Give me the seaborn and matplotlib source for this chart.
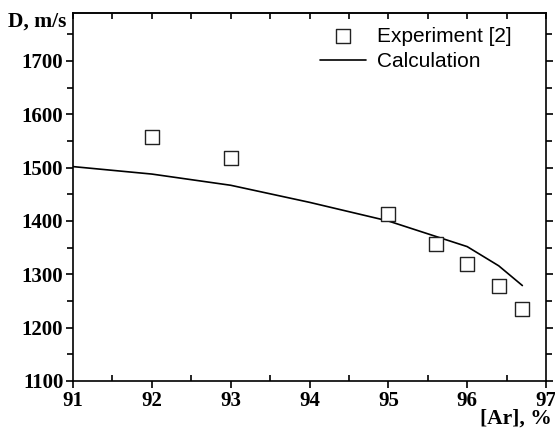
import matplotlib
matplotlib.use("Agg")
import matplotlib.pyplot as plt
import seaborn as sns
import pandas as pd
from matplotlib.ticker import MultipleLocator

exp_x = [92.0, 93.0, 95.0, 95.6, 96.0, 96.4, 96.7]
exp_y = [1557, 1518, 1414, 1356, 1319, 1279, 1235]
calc_x = [91.0, 92.0, 93.0, 94.0, 95.0, 96.0, 96.4, 96.7]
calc_y = [1502, 1488, 1467, 1435, 1400, 1352, 1316, 1279]
x_ticks = [91, 92, 93, 94, 95, 96, 97]
y_ticks = [1100, 1200, 1300, 1400, 1500, 1600, 1700]

exp_df = pd.DataFrame({"x": exp_x, "y": exp_y})
calc_df = pd.DataFrame({"x": calc_x, "y": calc_y})

sns.set_style("ticks")
plt.rcParams["font.family"] = ["Liberation Serif", "DejaVu Serif"]
plt.rcParams["text.color"] = "black"
plt.rcParams["xtick.color"] = "black"
plt.rcParams["ytick.color"] = "black"
plt.rcParams["axes.labelcolor"] = "black"

fig = plt.figure(figsize=(5.55, 4.30), dpi=100)
ax = fig.add_axes([73 / 555, 1 - 381 / 430, (546 - 73) / 555, (381 - 13) / 430])

sns.scatterplot(data=exp_df, x="x", y="y", ax=ax, marker="s", s=105,
                facecolor="white", edgecolor="#222222", linewidth=1.0,
                label="Experiment [2]", zorder=3)
sns.lineplot(data=calc_df, x="x", y="y", ax=ax, color="black", linewidth=1.2,
             label="Calculation", zorder=2)

ax.set_xlim(91, 97)
ax.set_ylim(1100, 1790)
ax.set_xticks(x_ticks)
ax.set_yticks(y_ticks)
ax.xaxis.set_minor_locator(MultipleLocator(0.5))
ax.yaxis.set_minor_locator(MultipleLocator(50))
ax.set_xlabel("")
ax.set_ylabel("")

for sp in ax.spines.values():
    sp.set_visible(True)
    sp.set_color("black")
    sp.set_linewidth(1.2)

ax.tick_params(axis="x", which="major", direction="out", length=5, width=1.2,
               top=False, bottom=True, labelsize=15, pad=2)
ax.tick_params(axis="x", which="minor", direction="in", length=4, width=1.2,
               top=False, bottom=True)
ax.tick_params(axis="y", which="major", direction="out", length=5, width=1.2,
               left=True, right=True, labelsize=15, pad=2)
ax.tick_params(axis="y", which="minor", direction="out", length=4, width=1.2,
               left=True, right=True)
for lab in ax.get_xticklabels() + ax.get_yticklabels():
    lab.set_fontweight("bold")

# top axis: inward ticks without labels
top = ax.secondary_xaxis("top")
top.set_xticks(x_ticks)
top.xaxis.set_minor_locator(MultipleLocator(0.5))
top.tick_params(axis="x", which="both", direction="in", length=4, width=1.2,
                labeltop=False)
top.spines["top"].set_linewidth(1.2)

fig.text(37 / 555, 1 - 22 / 430, "D, m/s", ha="center", va="center",
         fontsize=15.5, fontweight="bold")
fig.text(552 / 555, 1 - 419 / 430, "[Ar], %", ha="right", va="center",
         fontsize=15.5, fontweight="bold")

leg = ax.legend(loc="upper right", bbox_to_anchor=(0.955, 1.0), frameon=False,
                prop={"family": ["Liberation Sans", "DejaVu Sans"], "size": 15},
                handlelength=2.2, handletextpad=0.5, labelspacing=0.3,
                borderaxespad=0.25)

fig.savefig("out.png", dpi=100)
